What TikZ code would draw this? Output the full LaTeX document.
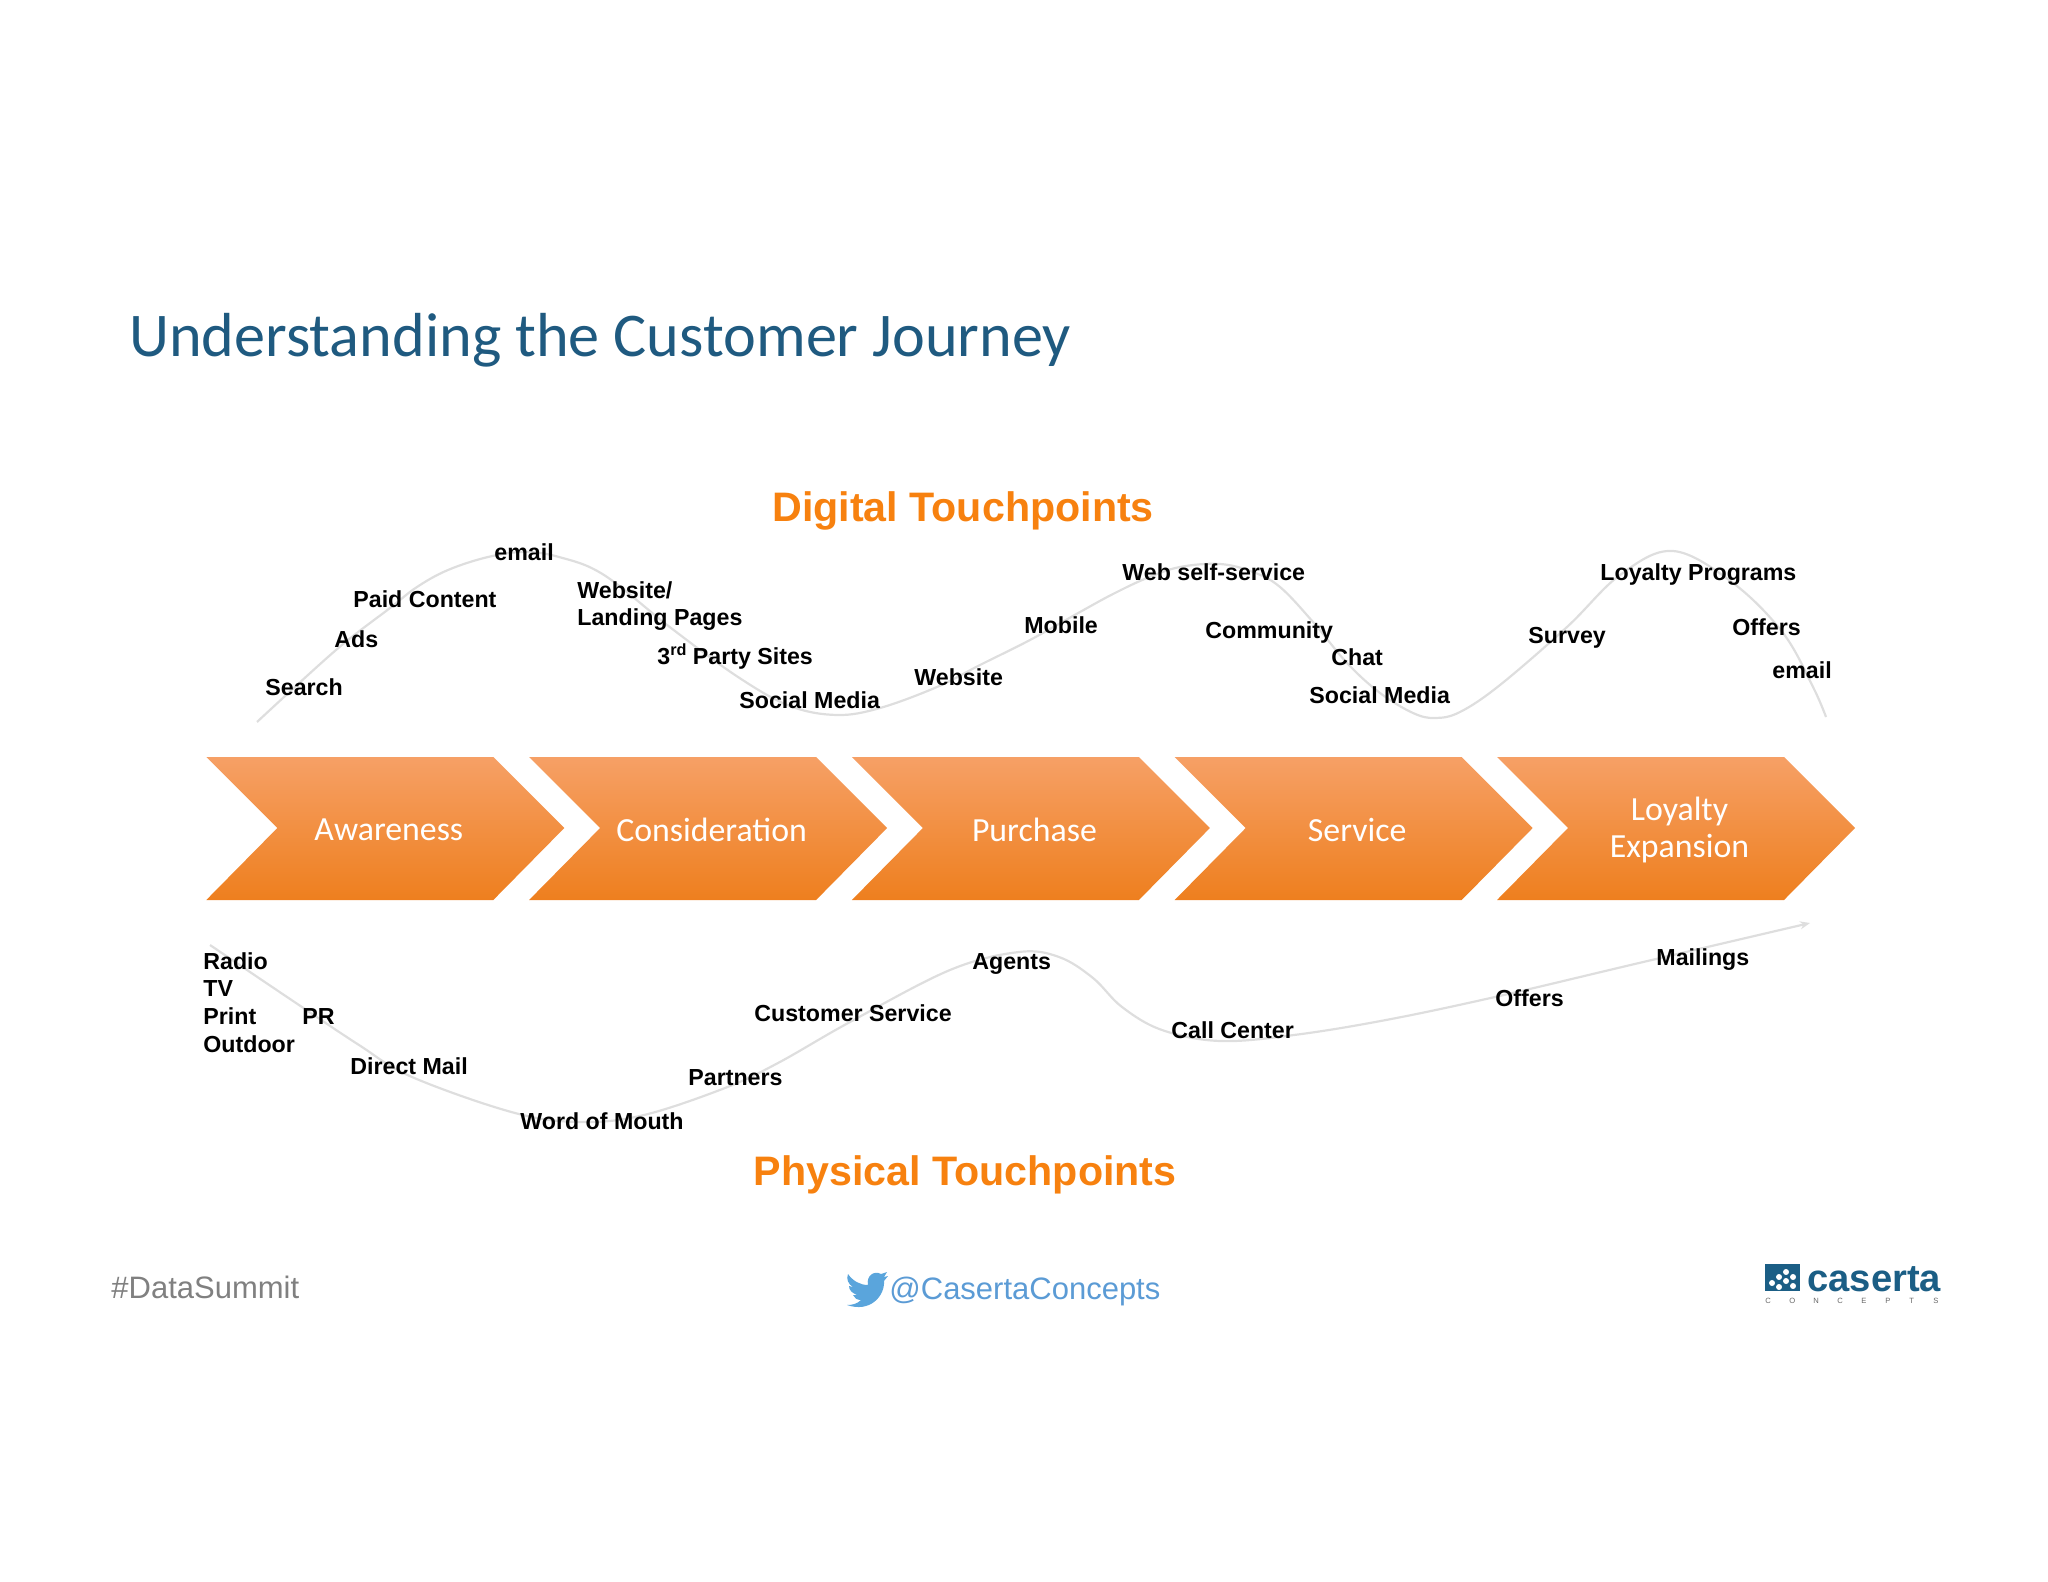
\documentclass[tikz,border=0pt]{standalone}
\usepackage{fontspec}
\usepackage{xcolor}
\setmainfont{Liberation Sans}
\newfontfamily\carlitofont{Carlito}
\usetikzlibrary{arrows.meta}
\definecolor{headblue}{HTML}{1F5A80}
\definecolor{touchorange}{HTML}{F7810F}
\definecolor{curvegray}{HTML}{DEDEDE}
\definecolor{tweetblue}{HTML}{5B9BD5}
\definecolor{birdblue}{HTML}{5AA5DC}
\definecolor{logoteal}{HTML}{1B5E85}
\definecolor{stagetop}{HTML}{F6A066}
\definecolor{stagemid}{HTML}{F8933A}
\definecolor{stagebot}{HTML}{EE7F1E}

\begin{document}
\begin{tikzpicture}[
    x=0.5pt, y=-0.5pt,
    touch/.style={anchor=base west, inner sep=0pt, font=\bfseries\fontsize{11.6}{13.2}\selectfont, text=black},
    heading/.style={inner sep=0pt, font=\bfseries\fontsize{20.6}{24}\selectfont, text=touchorange},
    stage/.style={top color=stagetop, middle color=stagemid, bottom color=stagebot},
    stagename/.style={align=center, inner sep=0pt, text=white, font=\carlitofont\fontsize{16.9}{18.3}\selectfont},
    curve/.style={draw=curvegray, line width=1.1pt}
]
\useasboundingbox (0,0) rectangle (2048,1582);

\node[anchor=west, inner sep=0pt, text=headblue, font=\carlitofont\fontsize{31.1}{36}\selectfont] (title) at (129,340) {Understanding the Customer Journey};

% Journey stages.
\foreach \x/\name/\label in {206.3/awareness/Awareness, 529.1/consideration/Consideration, 851.9/purchase/Purchase, 1174.7/service/Service, 1497/loyalty/{Loyalty\\Expansion}} {
    \path[stage] (\x,757) -- (\x+287,757) -- (\x+358,828) -- (\x+287,900) -- (\x,900) -- (\x+71,828) -- cycle;
    \node[stagename] (\name) at (\x+182.5,830) {\label};
}

% Digital curve, drawn first so the labels sit on it.
\coordinate (digitalstart) at (257,722);
\coordinate (digitalend) at (1826,717);
\draw[curve] plot[smooth, tension=0.6] coordinates {(digitalstart) (336,650) (390,608) (417,587) (448,570) (488,557) (524,552) (559,557) (604,575) (671,628) (738,677) (790,706) (837,715) (880,708) (937,687) (980,665) (1030,640) (1080,612) (1113,594) (1147,578) (1180,567) (1220,564) (1253,572) (1280,587) (1313,622) (1347,663) (1380,693) (1413,713) (1435,718) (1460,712) (1500,685) (1567,627) (1620,575) (1673,551) (1733,583) (1783,633) (1813,687) (digitalend)};

% Physical curve.
\coordinate (physicalstart) at (210,945);
\coordinate (physicalend) at (1810,923);
\draw[curve, -{Stealth[length=5pt, width=4pt]}] plot[smooth, tension=0.6] coordinates {(physicalstart) (247,970) (296,1003) (359,1045) (412,1077) (515,1113) (582,1122) (644,1115) (725,1088) (778,1063) (850,1022) (950,970) (1019,952) (1059,957) (1093,978) (1122,1007) (1162,1030) (1220,1041) (1294,1035) (1386,1020) (1495,997) (1639,963) (physicalend)};

\node[heading] (digital) at (963,511) {Digital Touchpoints};
\node[heading] (physical) at (965,1175) {Physical Touchpoints};

% Digital touchpoints.
\node[touch] (search) at (265,695) {Search};
\node[touch] (ads) at (334,647) {Ads};
\node[touch] (paidcontent) at (353,607) {Paid Content};
\node[touch] (emailone) at (494,560) {email};
\node[touch, anchor=west, align=left] (landing) at (577,606) {Website/\\Landing Pages};
\node[touch] (partysites) at (657,664) {3\textsuperscript{rd}\hspace{-0.5pt} Party Sites};
\node[touch] (socialone) at (739,708) {Social Media};
\node[touch] (website) at (914,685) {Website};
\node[touch] (mobile) at (1024,633) {Mobile};
\node[touch] (selfservice) at (1122,581) {Web self-service};
\node[touch] (community) at (1205,638) {Community};
\node[touch] (chat) at (1331,665) {Chat};
\node[touch] (socialtwo) at (1309,703) {Social Media};
\node[touch] (survey) at (1528,643) {Survey};
\node[touch] (programs) at (1600,581) {Loyalty Programs};
\node[touch] (offersone) at (1732,635) {Offers};
\node[touch] (emailtwo) at (1772,678) {email};

% Physical touchpoints.
\node[touch] (radio) at (203,969) {Radio};
\node[touch] (tv) at (203,996) {TV};
\node[touch] (print) at (203,1024) {Print};
\node[touch] (outdoor) at (203,1052) {Outdoor};
\node[touch] (pr) at (302,1024) {PR};
\node[touch] (directmail) at (350,1074) {Direct Mail};
\node[touch] (wordofmouth) at (520,1129) {Word of Mouth};
\node[touch] (partners) at (688,1085) {Partners};
\node[touch] (customerservice) at (754,1021) {Customer Service};
\node[touch] (agents) at (972,969) {Agents};
\node[touch] (callcenter) at (1171,1038) {Call Center};
\node[touch] (offerstwo) at (1495,1006) {Offers};
\node[touch] (mailings) at (1656,965) {Mailings};

% Footer.
\node[anchor=west, inner sep=0pt, text=black!50, font=\fontsize{15.5}{18}\selectfont] (summit) at (111,1287) {\#DataSummit};
\node[anchor=west, inner sep=0pt, text=tweetblue, font=\fontsize{15.5}{18}\selectfont] (handle) at (889,1291) {@CasertaConcepts};
\fill[birdblue] (848,1274) .. controls (853,1281) and (860,1285) .. (868,1285) .. controls (866,1276) and (874,1270) .. (881,1274) -- (887,1272) -- (884,1277) -- (888,1276) -- (884,1281) .. controls (885,1296) and (870,1313) .. (847,1305) .. controls (852,1305) and (857,1304) .. (861,1300) .. controls (857,1300) and (854,1298) .. (853,1295) -- (857,1295) .. controls (852,1293) and (849,1290) .. (849,1286) -- (853,1287) .. controls (848,1284) and (846,1279) .. (848,1274) -- cycle;

% Logo.
\fill[logoteal] (1765,1264) rectangle (1800,1291);
\foreach \x/\y in {1786/1272, 1779/1277, 1772/1283, 1786/1281, 1793/1277, 1779/1287, 1793/1286} {
    \fill[white] (\x,\y) circle (3);
}
\node[anchor=base west, inner sep=0pt, text=logoteal, font=\bfseries\fontsize{19.1}{22}\selectfont] (caserta) at (1807,1291) {caserta};
\foreach \i/\c in {0/C, 1/O, 2/N, 3/C, 4/E, 5/P, 6/T, 7/S} {
    \node[anchor=base west, inner sep=0pt, text=black!60, font=\fontsize{3.8}{4}\selectfont] at (1765+\i*24,1303) {\c};
}
\end{tikzpicture}
\end{document}
